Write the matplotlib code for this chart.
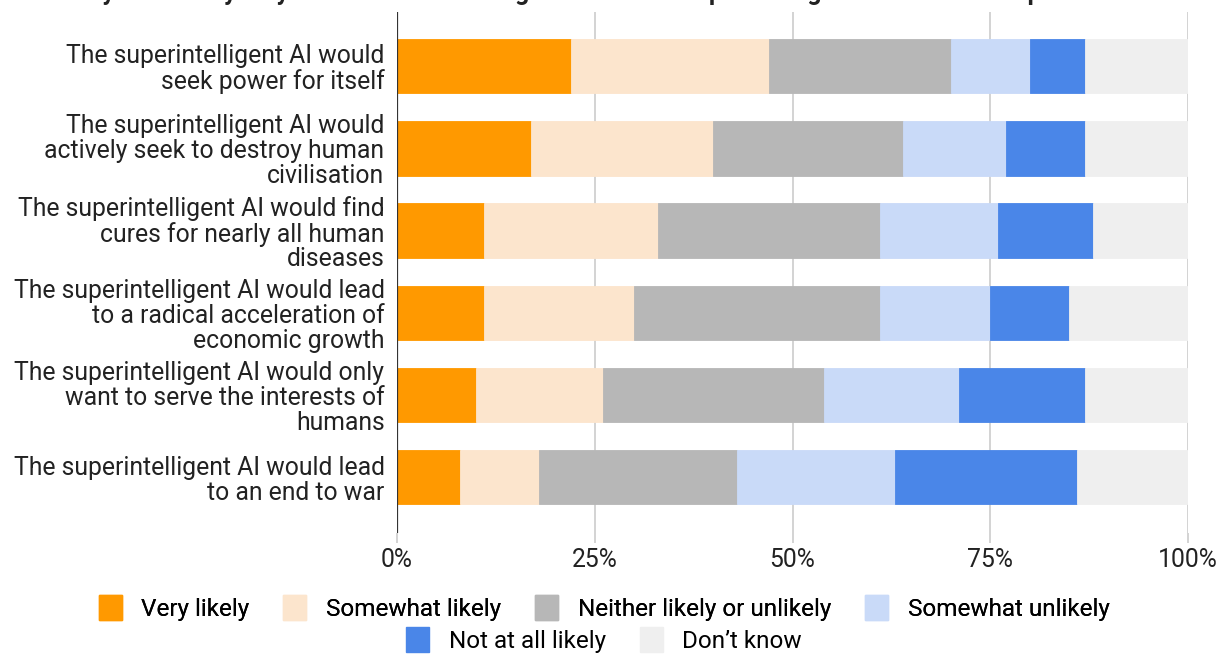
import matplotlib
matplotlib.use("Agg")
import matplotlib.pyplot as plt
from matplotlib.patches import Patch

plt.rcParams['font.family'] = ['Roboto', 'DejaVu Sans']

statements = [
    "The superintelligent AI would\nseek power for itself",
    "The superintelligent AI would\nactively seek to destroy human\ncivilisation",
    "The superintelligent AI would find\ncures for nearly all human\ndiseases",
    "The superintelligent AI would lead\nto a radical acceleration of\neconomic growth",
    "The superintelligent AI would only\nwant to serve the interests of\nhumans",
    "The superintelligent AI would lead\nto an end to war",
]

responses = ["Very likely", "Somewhat likely", "Neither likely or unlikely",
             "Somewhat unlikely", "Not at all likely", "Don\u2019t know"]
colors = ["#ff9900", "#fce5cd", "#b7b7b7", "#c9daf8", "#4a86e8", "#efefef"]

very_likely = [22, 17, 11, 11, 10, 8]
somewhat_likely = [25, 23, 22, 19, 16, 10]
neither = [23, 24, 28, 31, 28, 25]
somewhat_unlikely = [10, 13, 15, 14, 17, 20]
not_at_all = [7, 10, 12, 10, 16, 23]
dont_know = [13, 13, 12, 15, 13, 14]

series = [very_likely, somewhat_likely, neither, somewhat_unlikely, not_at_all, dont_know]

title = "How likely or unlikely do you think the following would be if a superintelligent AI were developed?"

FS = 17.8

fig = plt.figure(figsize=(12.22, 6.54), dpi=100)
ax = fig.add_axes([397 / 1222, 1 - 533 / 654, 791 / 1222, 521 / 654])

ypos = list(range(len(statements)))
left = [0] * len(statements)
for vals, col in zip(series, colors):
    ax.barh(ypos, vals, left=left, height=0.66, color=col, edgecolor=col,
            linewidth=0.6, zorder=3)
    left = [l + v for l, v in zip(left, vals)]

ax.set_xlim(0, 100)
ax.set_ylim(len(statements) - 1 + 0.68, -0.66)
ax.set_xticks([0, 25, 50, 75, 100])
ax.set_xticklabels(["0%", "25%", "50%", "75%", "100%"])
ax.set_yticks(ypos)
ax.set_yticklabels(statements, fontsize=FS, linespacing=1.05)

for s in ax.spines.values():
    s.set_visible(False)
ax.axvline(0, color="#333333", lw=1.6, zorder=4)
ax.grid(axis="x", color="#cccccc", lw=1.2, zorder=0)
ax.tick_params(axis="y", length=0, pad=9, labelcolor="#222222")
ax.tick_params(axis="x", length=7, width=1.2, color="#cccccc", pad=4,
               labelsize=FS, labelcolor="#222222")
ax.xaxis.get_major_ticks()[0].tick1line.set_color("#333333")

fig.text(0.0, 1.0, title, fontsize=FS, fontweight="bold", va="baseline",
         ha="left", color="#222222")

handles = [Patch(facecolor=c, edgecolor=c) for c in colors]
common = dict(frameon=False, fontsize=FS - 0.3, handlelength=0.95, handleheight=1.2,
              handletextpad=0.8, columnspacing=1.4, borderpad=0, borderaxespad=0)
leg1 = fig.legend(handles[:4], responses[:4], ncol=4, loc="center",
                  bbox_to_anchor=(604 / 1222, 1 - 608 / 654), **common)
fig.add_artist(leg1)
fig.legend(handles[4:], responses[4:], ncol=2, loc="center",
           bbox_to_anchor=(604 / 1222, 1 - 640 / 654), **common)

fig.savefig("out.png", dpi=100, facecolor="white")
